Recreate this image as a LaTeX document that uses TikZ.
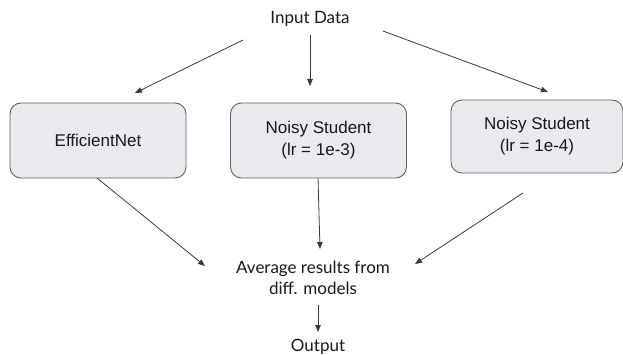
\documentclass[tikz,border=0pt]{standalone}
\usepackage{fontspec}
\setmainfont{Lato}
\newfontfamily\arialf{Liberation Sans}
\usetikzlibrary{arrows.meta}
\definecolor{boxfill}{HTML}{E8EAED}
\definecolor{boxline}{HTML}{5F6368}
\definecolor{arrcol}{HTML}{3A3A3A}
\tikzset{
  x=1pt, y=-1pt,
  model/.style={draw=boxline, fill=boxfill, line width=0.9pt, rounded corners=11pt, minimum width=176pt, minimum height=75pt, align=center, font=\arialf\fontsize{17}{22}\selectfont, text=black!90},
  label/.style={align=center, font=\fontsize{17}{21}\selectfont, text=black!90},
  arr/.style={draw=arrcol, line width=0.8pt, -{Triangle[length=7pt,width=5.5pt]}}
}
\begin{document}
\begin{tikzpicture}
\useasboundingbox (0,0) rectangle (623,355);
\node[label] (in) at (310,19) {Input Data};
\node[model] (m1) at (98,140.5) {EfficientNet};
\node[model] (m2) at (318.5,140.5) {Noisy Student\\(lr = 1e-3)};
\node[model, minimum width=172pt, minimum height=73pt] (m3) at (537,136.5) {Noisy Student\\(lr = 1e-4)};
\node[label] (avg) at (313,278) {Average results from\\diff. models};
\node[label] (out) at (318,347) {Output};
\coordinate (i1) at (243,40);
\coordinate (e1) at (135,93);
\coordinate (i2) at (310,35);
\coordinate (e2) at (310,86);
\coordinate (i3) at (383,31);
\coordinate (e3) at (548,92);
\coordinate (b1) at (97,178);
\coordinate (f1) at (205,266);
\coordinate (b2) at (318,178);
\coordinate (f2) at (320,249);
\coordinate (b3) at (523,193);
\coordinate (f3) at (415,264);
\coordinate (o1) at (318,305);
\coordinate (o2) at (318,332);
\draw[arr] (i1) -- (e1);
\draw[arr] (i2) -- (e2);
\draw[arr] (i3) -- (e3);
\draw[arr] (b1) -- (f1);
\draw[arr] (b2) -- (f2);
\draw[arr] (b3) -- (f3);
\draw[arr] (o1) -- (o2);
\end{tikzpicture}
\end{document}
